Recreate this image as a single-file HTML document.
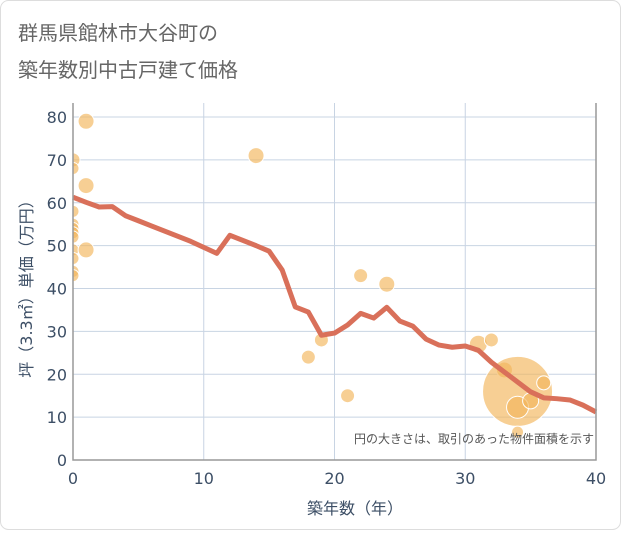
<!DOCTYPE html>
<html><head><meta charset="utf-8"><style>
body{margin:0;background:#fff;}
svg text{font-family:"DejaVu Sans","Noto Sans CJK JP",sans-serif;}
</style></head><body>
<svg id="chart" width="621" height="530" xmlns="http://www.w3.org/2000/svg">
<defs><clipPath id="plotclip"><rect x="73" y="103" width="523" height="357"/></clipPath></defs>
<rect x="0.5" y="0.5" width="620" height="529" rx="8" fill="#fff" stroke="#ddd"/>
<text x="18" y="40" font-size="20" fill="#666" font-family="Noto Sans CJK JP, sans-serif">群馬県館林市大谷町の</text>
<text x="18" y="77" font-size="20" fill="#666" font-family="Noto Sans CJK JP, sans-serif">築年数別中古戸建て価格</text>
<g id="grid"></g><g id="bubbles" clip-path="url(#plotclip)"></g><g id="line"></g><g id="axes"></g>
<text x="594" y="443" font-size="12" fill="#555" text-anchor="end" font-family="Noto Sans CJK JP, sans-serif">円の大きさは、取引のあった物件面積を示す</text>
<text x="355" y="514" font-size="16" fill="#3d4f66" text-anchor="middle" font-family="Noto Sans CJK JP, sans-serif">築年数（年）</text>
<text transform="translate(32,285) rotate(-90)" font-size="16" fill="#3d4f66" text-anchor="middle" font-family="Noto Sans CJK JP, sans-serif">坪（3.3㎡）単価（万円）</text>
</svg>
<script>
const xTicks=[0,10,20,30,40];
const yTicks=[0,10,20,30,40,50,60,70,80];
const lineYears=[0,1,2,3,4,5,6,7,8,9,10,11,12,13,14,15,16,17,18,19,20,21,22,23,24,25,26,27,28,29,30,31,32,33,34,35,36,37,38,39,40];
const lineValues=[61.3,60.1,59,59.1,57,55.8,54.6,53.4,52.2,51,49.6,48.2,52.4,51.2,50,48.7,44.3,35.7,34.5,29.1,29.6,31.5,34.2,33.1,35.6,32.4,31.2,28.2,26.8,26.3,26.6,25.6,22.8,20.5,18.2,15.9,14.5,14.3,14,12.8,11.2];
const bubbleYears=[0,0,0,0,0,0,0,0,0,0,0,1,1,1,14,18,19,21,22,24,31,32,33,34,34,35,36,34];
const bubbleValues=[70,68,58,55,54,53,52,49,47,44,43,79,64,49,71,24,28,15,43,41,27,28,21,16,12.3,13.8,18,6.5];
const bubbleSizes=[7,6,6,6,6,6,6,6,6,6,6,8,8,8,8,7,7,7,7,8,9,7,8,35,11,8,7,6];
const NS="http://www.w3.org/2000/svg";
const L=73,R=596,T=103,B=460;
const xs=v=>L+(v/40)*(R-L);
const ys=v=>B-(v/80)*(B-117);
function mk(t,a,p){const e=document.createElementNS(NS,t);for(const k in a)e.setAttribute(k,a[k]);document.getElementById(p).appendChild(e);return e;}
yTicks.forEach(v=>{const g=mk('line',{x1:L,x2:R,y1:ys(v),y2:ys(v),stroke:'#c8d4e3'},'grid');


const t=mk('text',{x:L-6,y:ys(v)+6,'font-size':16,fill:'#3d4f66','text-anchor':'end'},'axes');t.textContent=v;

});
xTicks.forEach(v=>{const g=mk('line',{x1:xs(v),x2:xs(v),y1:T,y2:B,stroke:'#c8d4e3'},'grid');


const t=mk('text',{x:xs(v),y:B+24,'font-size':16,fill:'#3d4f66','text-anchor':'middle'},'axes');t.textContent=v;

});
const ax=mk('path',{d:`M${L},${T}V${B}H${R}V${T}`,fill:'none',stroke:'#999','stroke-width':1.5},'axes');


bubbleYears.forEach((y,i)=>{const c=mk('circle',{cx:xs(y),cy:ys(bubbleValues[i]),r:bubbleSizes[i],fill:'#f2b55a','fill-opacity':0.65,stroke:'#fff','stroke-width':1},'bubbles');

});
const pl=mk('polyline',{points:lineYears.map((y,i)=>xs(y)+','+ys(lineValues[i])).join(' '),fill:'none',stroke:'#d9705a','stroke-width':5,'stroke-linejoin':'round'},'line');


</script>
</body></html>
